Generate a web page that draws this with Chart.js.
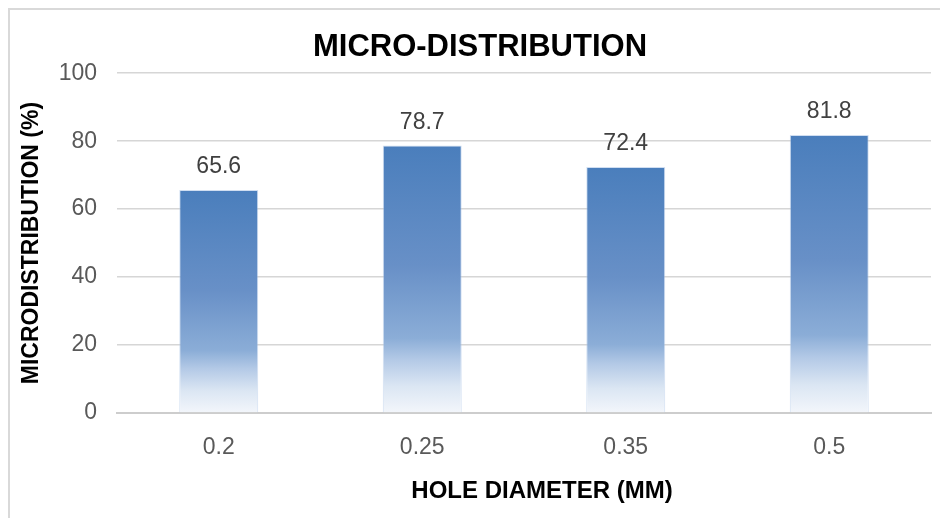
<!DOCTYPE html>
<html>
<head>
<meta charset="utf-8">
<script src="https://cdn.jsdelivr.net/npm/chart.js@4.4.1/dist/chart.umd.min.js"></script>
<style>
  html, body { margin: 0; padding: 0; background: #ffffff; overflow: hidden; }
  #wrap { position: relative; width: 940px; height: 518px; }
  #frame { position: absolute; left: 8px; top: 8px; width: 960px; height: 540px;
           border: 2px solid #d9d9d9; box-sizing: border-box; }
  #c { position: absolute; left: 0; top: 0; }
</style>
</head>
<body>
<div id="wrap">
  <div id="frame"></div>
  <canvas id="c" width="940" height="518"></canvas>
</div>
<script>
// Hole diameters (mm) and the measured micro-distribution (%) for each
const holeDiameters = ['0.2', '0.25', '0.35', '0.5'];
const microDistribution = [65.6, 78.7, 72.4, 81.8];
const yTickValues = [0, 20, 40, 60, 80, 100];

const FONT = "'Liberation Sans', Arial, sans-serif";

// Vertical gradient fitted to each bar: deep blue on top fading to white at the base
function barGradient(ctx) {
  const chart = ctx.chart;
  if (!chart.chartArea || ctx.type !== 'data') return '#4a7ebc';
  const y = chart.scales.y;
  const top = y.getPixelForValue(ctx.raw);
  const base = y.getPixelForValue(0);
  const g = chart.ctx.createLinearGradient(0, top, 0, base);
  g.addColorStop(0, '#4a7ebc');
  g.addColorStop(0.45, '#6890c7');
  g.addColorStop(0.72, '#8badd7');
  g.addColorStop(0.8, '#b3c9e6');
  g.addColorStop(0.9, '#dbe6f3');
  g.addColorStop(1, '#f3f6fb');
  return g;
}

// Value labels above each bar
const valueLabels = {
  id: 'valueLabels',
  afterDatasetsDraw(chart) {
    const { ctx } = chart;
    const meta = chart.getDatasetMeta(0);
    ctx.save();
    ctx.font = '23px ' + FONT;
    ctx.fillStyle = '#404040';
    ctx.textAlign = 'center';
    ctx.textBaseline = 'middle';
    meta.data.forEach((bar, i) => {
      ctx.fillText(String(microDistribution[i]), bar.x, bar.y - 23);
    });
    ctx.restore();
  }
};

// Centre the main title on the framed panel rather than on the whole canvas
const titleCentering = {
  id: 'titleCentering',
  afterLayout(chart) {
    if (chart.titleBlock) chart.titleBlock.left = 29;
  }
};

new Chart(document.getElementById('c'), {
  type: 'bar',
  data: {
    labels: holeDiameters,
    datasets: [{
      data: microDistribution,
      backgroundColor: barGradient,
      borderColor: 'rgba(170,195,230,0.55)',
      borderWidth: 1,
      borderSkipped: 'bottom',
      categoryPercentage: 1,
      barPercentage: 0.388
    }]
  },
  options: {
    responsive: false,
    animation: false,
    events: [],
    layout: { padding: { left: 0, right: 9, top: 0, bottom: 0 } },
    plugins: {
      legend: { display: false },
      tooltip: { enabled: false },
      title: {
        display: true,
        text: 'MICRO-DISTRIBUTION',
        color: '#000000',
        font: { family: FONT, size: 31, weight: 'bold', lineHeight: 1.2 },
        padding: { top: 29, bottom: 7 }
      }
    },
    scales: {
      x: {
        grid: { display: false },
        border: { display: true, color: '#cdcdcd', width: 2 },
        ticks: {
          color: '#595959',
          font: { family: FONT, size: 23 },
          padding: 13
        },
        title: {
          display: true,
          text: 'HOLE DIAMETER (MM)',
          color: '#000000',
          font: { family: FONT, size: 24, weight: 'bold', lineHeight: 1.2 },
          padding: { top: 10, bottom: 12 }
        },
        afterFit(scale) {
          scale.height = 105;
          // axis title sits a little right of the plot centre
          if (!scale._titleShifted) {
            const base = scale.drawTitle.bind(scale);
            scale.drawTitle = function () {
              const c = this.ctx;
              c.save();
              c.translate(18, 0);
              base();
              c.restore();
            };
            scale._titleShifted = true;
          }
        }
      },
      y: {
        min: 0,
        max: 100,
        afterBuildTicks(scale) { scale.ticks = yTickValues.map(v => ({ value: v })); },
        grid: { color: '#d6d6d6', lineWidth: 1.5, drawTicks: false },
        border: { display: false },
        ticks: {
          color: '#595959',
          font: { family: FONT, size: 23 },
          padding: 20
        },
        title: {
          display: true,
          text: 'MICRODISTRIBUTION (%)',
          color: '#000000',
          font: { family: FONT, size: 23, weight: 'bold', lineHeight: 1.2 },
          padding: { top: 18, bottom: 10 }
        },
        afterFit(scale) { scale.width = 117; }
      }
    }
  },
  plugins: [valueLabels, titleCentering]
});
</script>
</body>
</html>
